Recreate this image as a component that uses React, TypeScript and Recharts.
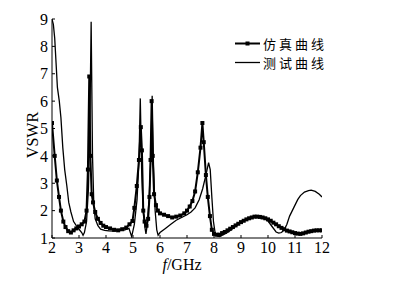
import React from 'react'
import { LineChart, Line, XAxis, YAxis, Label, Legend } from 'recharts'

// simulated curve (square markers)
const simFreq = [
  2.0, 2.1, 2.18, 2.26, 2.33, 2.42, 2.5, 2.6, 2.7, 2.8, 2.9, 3.0, 3.1, 3.2, 3.28, 3.33, 3.38, 3.42, 3.47, 3.52,
  3.6, 3.7, 3.8, 3.9, 4.0, 4.15, 4.3, 4.45, 4.6, 4.75, 4.87, 4.98, 5.05, 5.14, 5.22, 5.29, 5.33, 5.38, 5.43, 5.5,
  5.56, 5.61, 5.65, 5.69, 5.73, 5.78, 5.85, 5.92, 6.0, 6.15, 6.3, 6.45, 6.6, 6.75, 6.9, 7.0, 7.1, 7.2, 7.3, 7.4,
  7.5, 7.57, 7.62, 7.7, 7.77, 7.85, 7.92, 8.0, 8.1, 8.2, 8.3, 8.4, 8.5, 8.6, 8.7, 8.8, 8.9, 9.0, 9.1, 9.2,
  9.3, 9.4, 9.5, 9.6, 9.7, 9.8, 9.9, 10.0, 10.1, 10.2, 10.3, 10.4, 10.5, 10.6, 10.7, 10.8, 10.9, 11.0, 11.1, 11.2,
  11.3, 11.4, 11.5, 11.6, 11.7, 11.8, 11.9, 12.0,
]
const simVswr = [
  5.2, 4.0, 3.1, 2.5, 2.0, 1.6, 1.4, 1.25, 1.2, 1.28, 1.35, 1.42, 1.5, 1.6, 2.0, 3.5, 6.9, 4.0, 2.6, 2.3,
  1.95, 1.7, 1.55, 1.45, 1.4, 1.35, 1.3, 1.28, 1.32, 1.38, 1.5, 1.62, 2.1, 2.9, 3.85, 5.05, 4.2, 2.0, 1.6, 1.45,
  1.7, 2.5, 3.85, 6.0, 4.0, 2.6, 2.2, 2.0, 1.9, 1.85, 1.8, 1.75, 1.78, 1.82, 1.9, 2.0, 2.15, 2.35, 2.7, 3.4,
  4.3, 5.2, 4.5, 3.3, 2.5, 1.8, 1.3, 1.15, 1.12, 1.12, 1.18, 1.22, 1.28, 1.34, 1.4, 1.46, 1.52, 1.58, 1.63, 1.68,
  1.72, 1.75, 1.78, 1.78, 1.77, 1.75, 1.72, 1.68, 1.63, 1.56, 1.5, 1.43, 1.37, 1.32, 1.27, 1.24, 1.21, 1.18, 1.16, 1.15,
  1.17, 1.2, 1.23, 1.25, 1.27, 1.28, 1.28, 1.28,
]

// measured curve (thin line)
const measFreq = [
  2.0, 2.05, 2.1, 2.15, 2.2, 2.27, 2.33, 2.4, 2.47, 2.55, 2.62, 2.7, 2.8, 2.9, 3.0, 3.1, 3.15, 3.2, 3.28, 3.35,
  3.4, 3.45, 3.5, 3.55, 3.6, 3.7, 3.8, 3.95, 4.1, 4.3, 4.5, 4.7, 4.85, 4.95, 5.05, 5.15, 5.22, 5.27, 5.32, 5.38,
  5.44, 5.48, 5.53, 5.6, 5.66, 5.71, 5.76, 5.82, 5.88, 5.93, 6.0, 6.2, 6.4, 6.6, 6.8, 7.0, 7.15, 7.3, 7.45, 7.58,
  7.7, 7.8, 7.86, 7.92, 7.98, 8.04, 8.1, 8.2, 8.35, 8.5, 8.7, 8.9, 9.1, 9.3, 9.5, 9.7, 9.9, 10.0, 10.15, 10.3,
  10.4, 10.5, 10.6, 10.7, 10.8, 10.9, 11.0, 11.1, 11.2, 11.35, 11.5, 11.6, 11.75, 11.9, 12.0,
]
const measVswr = [
  9.0, 8.8, 8.3, 7.4, 6.5, 6.0, 5.4, 4.3, 3.5, 2.9, 2.3, 1.95, 1.6, 1.45, 1.32, 1.2, 1.1, 1.2, 1.6, 2.8,
  5.0, 8.9, 4.0, 2.2, 1.7, 1.45, 1.32, 1.28, 1.26, 1.25, 1.27, 1.3, 1.35, 1.05, 1.5, 2.4, 3.8, 6.1, 3.5, 2.0,
  1.4, 1.15, 1.5, 2.5, 4.0, 6.2, 3.6, 2.0, 1.3, 1.1, 1.2, 1.35, 1.5, 1.65, 1.75, 1.85, 1.95, 2.1, 2.4, 2.8,
  3.3, 3.75, 3.5, 2.5, 1.6, 1.2, 1.08, 1.05, 1.12, 1.2, 1.35, 1.5, 1.62, 1.72, 1.78, 1.77, 1.72, 1.62, 1.42, 1.22,
  1.18, 1.2, 1.3, 1.5, 1.8, 2.0, 2.2, 2.4, 2.55, 2.68, 2.73, 2.75, 2.7, 2.6, 2.5,
]

const xTicks = [2, 3, 4, 5, 6, 7, 8, 9, 10, 11, 12]
const yTicks = [1, 2, 3, 4, 5, 6, 7, 8, 9]
const legendNames = ['仿真曲线', '测试曲线']

const simData = simFreq.map((f, i) => ({ f, v: simVswr[i] }))
const measData = measFreq.map((f, i) => ({ f, v: measVswr[i] }))

const SERIF = '"Liberation Serif", "DejaVu Serif", serif'
const CJK = '"Noto Sans CJK SC", sans-serif'

const SquareDot = (props: any) => {
  const { cx, cy, index } = props
  if (cx == null || cy == null) return null
  return <rect key={'d' + index} x={cx - 2} y={cy - 2} width={4} height={4} fill="#000" />
}

const renderLegend = () => (
  <div style={{ fontFamily: CJK, fontSize: 13, color: '#000' }}>
    {legendNames.map((name, i) => (
      <div key={name} style={{ display: 'flex', alignItems: 'center', height: 19, lineHeight: '19px' }}>
        <svg width={28} height={19} style={{ flex: 'none' }}>
          <line x1={0} y1={9.5} x2={25} y2={9.5} stroke="#000" strokeWidth={i === 0 ? 2 : 1.3} />
          {i === 0 && <rect x={10.5} y={7.5} width={4} height={4} fill="#000" />}
        </svg>
        <span style={{ letterSpacing: 3 }}>{name}</span>
      </div>
    ))}
  </div>
)

export default function App() {
  return (
    <div style={{ position: 'absolute', left: 0, top: 0, width: 403, height: 282, background: '#fff' }}>
      <LineChart width={403} height={282} margin={{ top: 19, right: 81, left: 22, bottom: 14 }}>
        <XAxis
          type="number"
          dataKey="f"
          domain={[2, 12]}
          ticks={xTicks}
          allowDataOverflow
          height={30}
          stroke="#000"
          tickSize={-3}
          tickMargin={7}
          tick={{ fill: '#000', fontSize: 16, fontFamily: SERIF }}
        >
          <Label
            content={() => (
              <text x={182} y={270} textAnchor="middle" fontFamily={SERIF} fontSize={16} fill="#000">
                <tspan fontStyle="italic">f</tspan>/GHz
              </text>
            )}
          />
        </XAxis>
        <YAxis
          type="number"
          domain={[1, 9]}
          ticks={yTicks}
          allowDataOverflow
          width={30}
          stroke="#000"
          tickSize={-3}
          tickMargin={7}
          tick={{ fill: '#000', fontSize: 16, fontFamily: SERIF }}
        >
          <Label
            content={() => (
              <text
                x={32}
                y={135}
                transform="rotate(-90 32 135)"
                textAnchor="middle"
                dominantBaseline="central"
                fontFamily={SERIF}
                fontSize={16}
                fill="#000"
              >
                VSWR
              </text>
            )}
          />
        </YAxis>
        <Legend
          layout="horizontal"
          verticalAlign="middle"
          align="center"
          content={renderLegend}
          wrapperStyle={{ left: 235, top: 34, width: 110 }}
        />
        <Line
          data={measData}
          dataKey="v"
          type="linear"
          stroke="#000"
          strokeWidth={1.3}
          dot={false}
          activeDot={false}
          isAnimationActive={false}
        />
        <Line
          data={simData}
          dataKey="v"
          type="linear"
          stroke="#000"
          strokeWidth={2}
          dot={SquareDot}
          activeDot={false}
          isAnimationActive={false}
        />
      </LineChart>
    </div>
  )
}
